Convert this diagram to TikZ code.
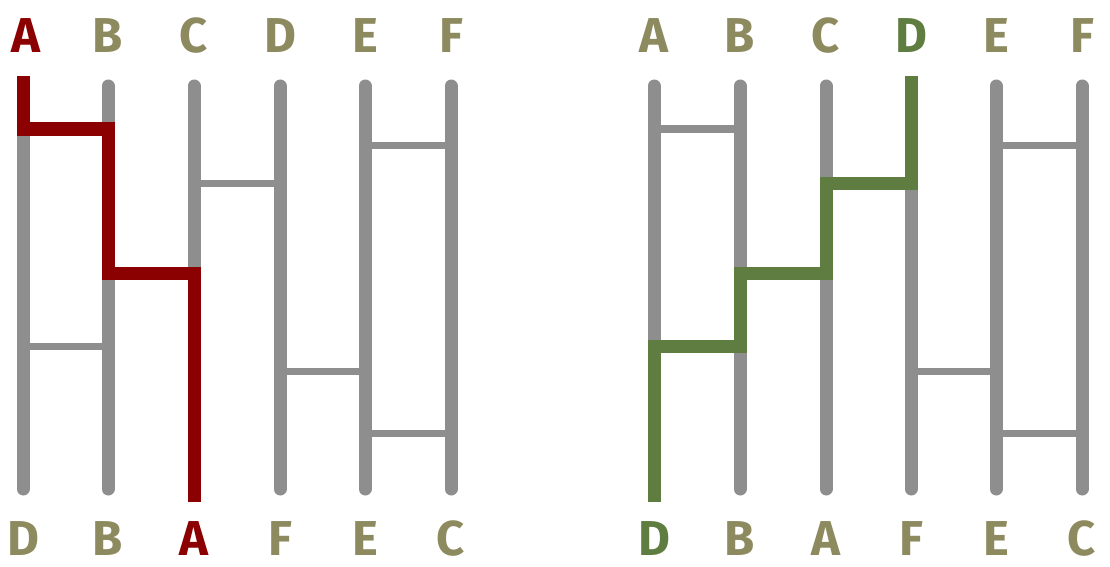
\documentclass[tikz,border=0pt]{standalone}
\usepackage{fontspec}
\setmainfont{Fira Sans}
\definecolor{ladgray}{HTML}{8E8E8E}
\definecolor{labolive}{HTML}{8C8A5E}
\definecolor{pathred}{HTML}{8B0000}
\definecolor{pathgreen}{HTML}{5F7D41}
\begin{document}
\begin{tikzpicture}[x=1pt,y=-1pt,
  rail/.style={draw=ladgray,line width=13pt,line cap=round},
  rung/.style={draw=ladgray,line width=7pt},
  route/.style={line width=13pt,line cap=butt,line join=miter},
  lab/.style={font=\fontsize{49}{49}\selectfont\bfseries,text=labolive,inner sep=0pt,text depth=0pt,anchor=base},
]
\useasboundingbox (0,0) rectangle (1110,567);
% rails
\foreach \n/\x in {A/23,B/108,C/194,D/280,E/365,F/451}{
  \coordinate (L\n t) at (\x,86); \coordinate (L\n b) at (\x,489);
  \coordinate (L\n T) at (\x,76); \coordinate (L\n B) at (\x,502);
  \draw[rail] (L\n t) -- (L\n b);
}
\foreach \n/\x in {A/654,B/740,C/826,D/911,E/996,F/1082}{
  \coordinate (R\n t) at (\x,86); \coordinate (R\n b) at (\x,489);
  \coordinate (R\n T) at (\x,76); \coordinate (R\n B) at (\x,502);
  \draw[rail] (R\n t) -- (R\n b);
}
% rungs
\foreach \s in {L,R}{
  \draw[rung] (\s At |- 0,129) -- (\s Bt |- 0,129);
  \draw[rung] (\s Et |- 0,145) -- (\s Ft |- 0,145);
  \draw[rung] (\s Ct |- 0,183) -- (\s Dt |- 0,183);
  \draw[rung] (\s Bt |- 0,273) -- (\s Ct |- 0,273);
  \draw[rung] (\s At |- 0,346) -- (\s Bt |- 0,346);
  \draw[rung] (\s Dt |- 0,371) -- (\s Et |- 0,371);
  \draw[rung] (\s Et |- 0,433) -- (\s Ft |- 0,433);
}
% routes
\draw[route,pathred] (LAT) -- (LAt |- 0,129) -- (LBt |- 0,129) -- (LBt |- 0,273) -- (LCt |- 0,273) -- (LCB);
\draw[route,pathgreen] (RDT) -- (RDt |- 0,183) -- (RCt |- 0,183) -- (RCt |- 0,273) -- (RBt |- 0,273) -- (RBt |- 0,346) -- (RAt |- 0,346) -- (RAB);
% labels top
\foreach \n in {B,C,D,E,F}{ \node[lab] (lt\n) at ([yshift=23pt]L\n T) {\n}; }
\node[lab,text=pathred] (ltA) at ([yshift=23pt,xshift=3pt]LAT) {A};
\foreach \n in {A,B,C,E,F}{ \node[lab] (rt\n) at ([yshift=23pt]R\n T) {\n}; }
\node[lab,text=pathgreen] (rtD) at ([yshift=23pt]RDT) {D};
% labels bottom
\node[lab] (lbD) at ([yshift=-53pt]LAB) {D};
\node[lab] (lbB) at ([yshift=-53pt]LBB) {B};
\node[lab,text=pathred] (lbA) at ([yshift=-53pt]LCB) {A};
\node[lab] (lbF) at ([yshift=-53pt]LDB) {F};
\node[lab] (lbE) at ([yshift=-53pt]LEB) {E};
\node[lab] (lbC) at ([yshift=-53pt]LFB) {C};
\node[lab,text=pathgreen] (rbD) at ([yshift=-53pt]RAB) {D};
\node[lab] (rbB) at ([yshift=-53pt]RBB) {B};
\node[lab] (rbA) at ([yshift=-53pt]RCB) {A};
\node[lab] (rbF) at ([yshift=-53pt]RDB) {F};
\node[lab] (rbE) at ([yshift=-53pt]REB) {E};
\node[lab] (rbC) at ([yshift=-53pt]RFB) {C};
\end{tikzpicture}
\end{document}
